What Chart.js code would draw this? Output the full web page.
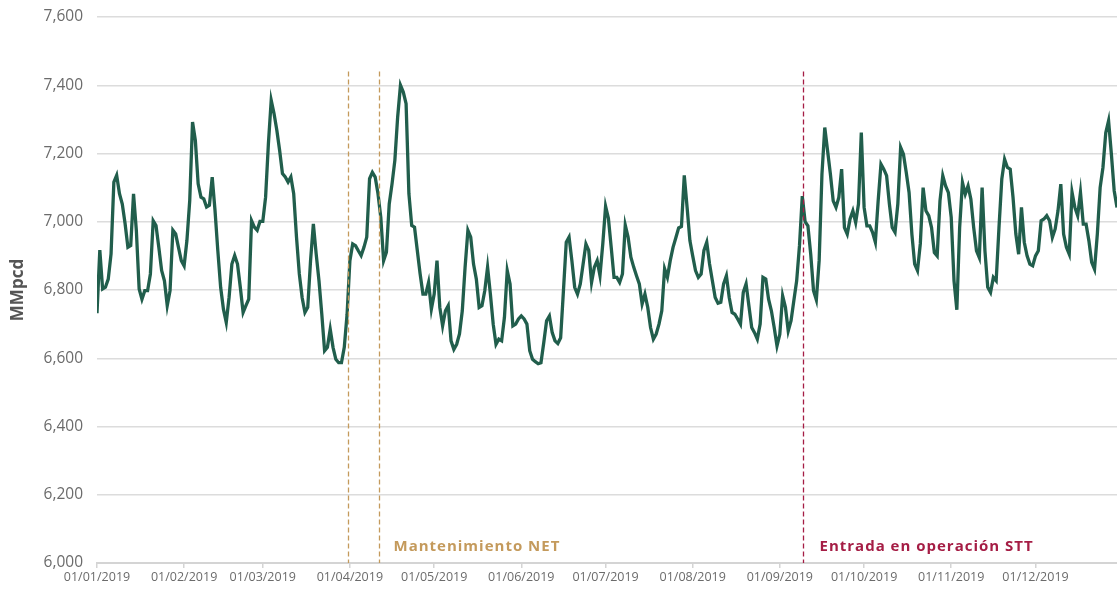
<!DOCTYPE html>
<html>
<head>
    <title>MMpcd 2019</title>
    <script src="https://cdn.jsdelivr.net/npm/chart.js"></script>
    <style>
        body { margin: 0; background: #fff; }
        #wrap { width: 1117px; height: 589px; position: relative; }
    </style>
</head>
<body>
    <div id="wrap"><canvas id="flowChart"></canvas></div>
    <script>
        // tick labels (first day of each month) and their day index in 2019
        const monthLabels = ['01/01/2019', '01/02/2019', '01/03/2019', '01/04/2019', '01/05/2019', '01/06/2019',
                             '01/07/2019', '01/08/2019', '01/09/2019', '01/10/2019', '01/11/2019', '01/12/2019'];
        const monthStartDays = [0, 31, 59, 90, 120, 151, 181, 212, 243, 273, 304, 334];

        // daily values, MMpcd, from 01/01/2019
        const flowValues = [
            6732, 6917, 6803, 6808, 6832, 6906, 7116, 7136, 7082, 7052,
            6994, 6925, 6930, 7082, 6975, 6803, 6773, 6798, 6798, 6847,
            7003, 6989, 6925, 6857, 6827, 6754, 6798, 6975, 6964, 6925,
            6886, 6871, 6945, 7062, 7292, 7238, 7111, 7072, 7067, 7043,
            7048, 7131, 7033, 6915, 6808, 6744, 6705, 6778, 6876, 6901,
            6876, 6808, 6734, 6754, 6773, 7003, 6984, 6975, 7001, 7001,
            7072, 7229, 7356, 7317, 7268, 7209, 7141, 7131, 7116, 7131,
            7082, 6955, 6847, 6778, 6734, 6749, 6886, 6994, 6906, 6827,
            6729, 6622, 6632, 6685, 6632, 6597, 6587, 6587, 6632, 6729,
            6886, 6935, 6930, 6915, 6901, 6925, 6955, 7126, 7145, 7131,
            7082, 7013, 6886, 6911, 7052, 7111, 7180, 7307, 7400, 7380,
            7346, 7082, 6989, 6984, 6915, 6847, 6788, 6788, 6822, 6744,
            6788, 6886, 6749, 6695, 6739, 6754, 6651, 6626, 6641, 6671,
            6739, 6867, 6975, 6955, 6876, 6832, 6749, 6754, 6798, 6867,
            6788, 6700, 6641, 6656, 6651, 6720, 6857, 6818, 6695, 6700,
            6715, 6724, 6715, 6700, 6622, 6597, 6590, 6584, 6587, 6646,
            6710, 6724, 6675, 6651, 6643, 6660, 6798, 6940, 6955, 6886,
            6808, 6788, 6818, 6876, 6935, 6916, 6822, 6867, 6886, 6842,
            6935, 7045, 7010, 6925, 6837, 6837, 6822, 6847, 6990, 6955,
            6896, 6867, 6842, 6818, 6759, 6788, 6749, 6690, 6656, 6671,
            6700, 6739, 6862, 6837, 6886, 6925, 6953, 6982, 6986, 7136,
            7043, 6945, 6900, 6857, 6837, 6847, 6916, 6940, 6876, 6827,
            6778, 6761, 6764, 6818, 6842, 6778, 6734, 6729, 6715, 6700,
            6793, 6818, 6754, 6690, 6675, 6656, 6700, 6837, 6832, 6773,
            6739, 6690, 6636, 6670, 6783, 6749, 6680, 6710, 6769, 6827,
            6930, 7075, 7000, 6988, 6905, 6798, 6771, 6886, 7140, 7276,
            7208, 7140, 7061, 7042, 7071, 7154, 6983, 6964, 7008, 7032,
            6998, 7052, 7261, 7042, 6988, 6988, 6969, 6940, 7061, 7169,
            7154, 7135, 7052, 6983, 6969, 7052, 7218, 7198, 7144, 7086,
            6964, 6876, 6857, 6935, 7100, 7032, 7018, 6983, 6910, 6900,
            7061, 7135, 7105, 7085, 7013, 6827, 6742, 6983, 7115, 7081,
            7105, 7066, 6983, 6915, 6895, 7100, 6915, 6808, 6793, 6837,
            6827, 6983, 7125, 7183, 7159, 7154, 7071, 6964, 6905, 7042,
            6940, 6900, 6876, 6871, 6900, 6915, 7003, 7008, 7018, 7003,
            6954, 6979, 7032, 7110, 6964, 6925, 6905, 7086, 7042, 7018,
            7086, 6993, 6993, 6944, 6881, 6861, 6964, 7100, 7159, 7261,
            7296, 7198, 7091, 7042, 6940
        ];

        // event markers: day index of each dashed line
        const netDays = [89.3, 100.3];
        const sttDays = [251.3];

        const NET_COLOR = '#c49a5c';
        const STT_COLOR = '#a51d45';

        const eventLines = {
            id: 'eventLines',
            afterDatasetsDraw(chart) {
                const { ctx, chartArea, scales } = chart;
                const topY = scales.y.getPixelForValue(7440);
                const textY = scales.y.getPixelForValue(6047);
                const drawLine = (day, color) => {
                    const x = Math.round(scales.x.getPixelForValue(day)) + 0.5;
                    ctx.save();
                    ctx.strokeStyle = color;
                    ctx.lineWidth = 1.3;
                    ctx.setLineDash([5, 3]);
                    ctx.beginPath();
                    ctx.moveTo(x, topY);
                    ctx.lineTo(x, chartArea.bottom);
                    ctx.stroke();
                    ctx.restore();
                    return x;
                };
                const drawLabel = (text, x, color) => {
                    ctx.save();
                    ctx.font = 'bold 15px "Open Sans"';
                    ctx.letterSpacing = '1px';
                    ctx.textBaseline = 'middle';
                    ctx.fillStyle = color;
                    ctx.fillText(text, x, textY);
                    ctx.restore();
                };
                let x = 0;
                netDays.forEach(d => { x = drawLine(d, NET_COLOR); });
                drawLabel('Mantenimiento NET', x + 14, NET_COLOR);
                sttDays.forEach(d => { x = drawLine(d, STT_COLOR); });
                drawLabel('Entrada en operación STT', x + 16, STT_COLOR);
            }
        };

        const ctx = document.getElementById('flowChart').getContext('2d');
        new Chart(ctx, {
            type: 'line',
            data: {
                datasets: [{
                    label: 'MMpcd',
                    data: flowValues.map((v, i) => ({ x: i, y: v })),
                    borderColor: '#215e4c',
                    borderWidth: 3.3,
                    pointRadius: 0,
                    tension: 0,
                    fill: false
                }]
            },
            options: {
                responsive: true,
                maintainAspectRatio: false,
                animation: false,
                layout: { padding: { top: 17, right: 0, bottom: 0, left: 0 } },
                plugins: {
                    legend: { display: false },
                    tooltip: { enabled: false }
                },
                scales: {
                    x: {
                        type: 'linear',
                        min: 0,
                        max: 363,
                        afterBuildTicks: scale => {
                            scale.ticks = monthStartDays.map(v => ({ value: v }));
                        },
                        afterFit: scale => { scale.height = 26; },
                        ticks: {
                            autoSkip: false,
                            maxRotation: 0,
                            padding: 2,
                            color: '#6b6b6b',
                            font: { family: 'Open Sans', size: 12.5 },
                            callback: value => monthLabels[monthStartDays.indexOf(value)]
                        },
                        grid: {
                            drawOnChartArea: false,
                            tickLength: 5,
                            color: '#d4d4d4',
                            lineWidth: 1.5
                        },
                        border: { color: '#d4d4d4', width: 2 }
                    },
                    y: {
                        min: 6000,
                        max: 7600,
                        afterFit: scale => {
                            scale.width = 97;
                            scale.paddingTop = 0;
                            scale.paddingBottom = 0;
                        },
                        ticks: {
                            stepSize: 200,
                            padding: 14,
                            color: '#6b6b6b',
                            font: { family: 'Open Sans', size: 15.5 },
                            callback: value => value.toLocaleString('en-US')
                        },
                        grid: {
                            color: '#dcdcdc',
                            lineWidth: 1.5,
                            drawTicks: false
                        },
                        border: { display: false },
                        title: {
                            display: true,
                            text: 'MMpcd',
                            color: '#555555',
                            font: { family: 'Open Sans', size: 17, weight: 'bold' },
                            padding: { top: 8, bottom: 0 }
                        }
                    }
                }
            },
            plugins: [eventLines]
        });
    </script>
</body>
</html>
